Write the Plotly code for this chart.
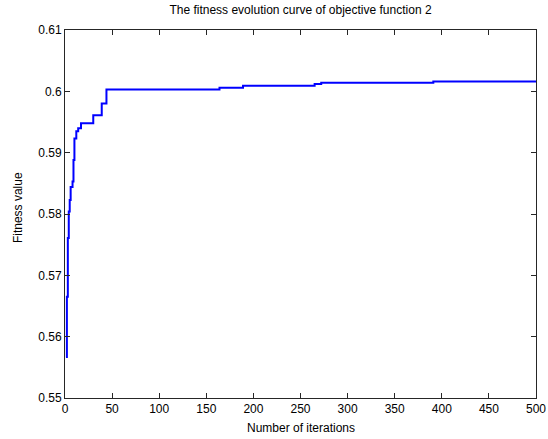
import plotly.graph_objects as go

# Data (iteration at which best fitness changes)
iterations = [1, 2, 3, 4, 5, 6, 8, 9, 10, 12, 14, 17, 30, 39, 44, 164, 189, 265, 272, 391, 500]
fitness = [0.5567, 0.5665, 0.5761, 0.5804, 0.5823, 0.5844, 0.5853, 0.5888, 0.5923,
           0.5935, 0.5940, 0.5948, 0.5961, 0.5980, 0.6003, 0.6006, 0.6009, 0.6012,
           0.6014, 0.6016, 0.6016]

x_ticks = [0, 50, 100, 150, 200, 250, 300, 350, 400, 450, 500]
y_ticks = [0.55, 0.56, 0.57, 0.58, 0.59, 0.60, 0.61]
y_tick_labels = ["0.55", "0.56", "0.57", "0.58", "0.59", "0.6", "0.61"]

font_family = "Liberation Sans, Arial, sans-serif"

fig = go.Figure()
fig.add_trace(go.Scatter(
    x=iterations, y=fitness, mode="lines",
    line=dict(color="#0000ff", width=2, shape="hv"),
    showlegend=False,
))

axis_common = dict(
    showline=True, linecolor="#262626", linewidth=1, mirror="ticks",
    ticks="inside", ticklen=5, tickcolor="#262626",
    showgrid=False, zeroline=False, automargin=False,
    tickfont=dict(family=font_family, size=12, color="#000"),
)

plot_h = 439 - 30 - 41
plot_w = 548 - 65 - 12

fig.update_layout(
    width=548, height=439,
    margin=dict(l=65, r=12, t=30, b=41),
    paper_bgcolor="white", plot_bgcolor="white",
    font=dict(family=font_family, size=12, color="#000"),
    title=dict(text="The fitness evolution curve of objective function 2",
               x=0.5, xanchor="center", xref="paper",
               y=1 - 10 / 439, yanchor="middle", yref="container",
               font=dict(family=font_family, size=12, color="#000")),
    xaxis=dict(range=[0, 500], tickvals=x_ticks, **axis_common),
    yaxis=dict(range=[0.55, 0.61], tickvals=y_ticks, ticktext=y_tick_labels,
               **axis_common),
    annotations=[
        dict(text="Number of iterations", xref="paper", yref="paper",
             x=0.5, y=-30 / plot_h, xanchor="center", yanchor="middle",
             showarrow=False, font=dict(family=font_family, size=12, color="#000")),
        dict(text="Fitness value", xref="paper", yref="paper",
             x=-47 / plot_w, y=0.516, xanchor="center", yanchor="middle",
             textangle=-90, showarrow=False,
             font=dict(family=font_family, size=12, color="#000")),
    ],
)

fig.write_html("out.html")
